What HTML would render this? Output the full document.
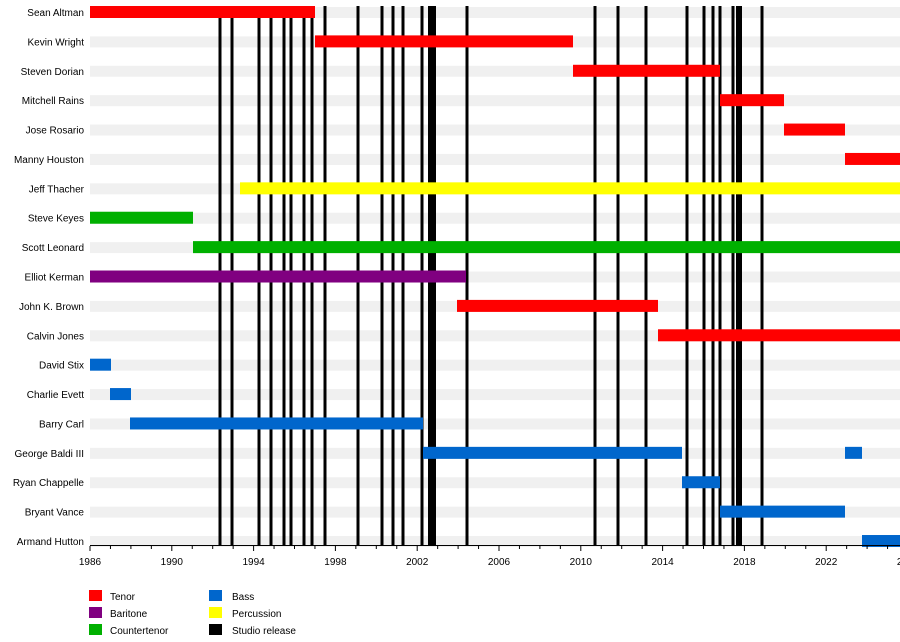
<!DOCTYPE html><html><head><style>body{margin:0;background:#fff}svg{display:block}text{font-family:"Liberation Sans",sans-serif;font-size:10px;fill:#000}</style></head><body>
<svg width="900" height="642" xmlns="http://www.w3.org/2000/svg">
<g id="bands" fill="#f0f0f0"></g>
<g id="vl" fill="#000"></g>
<g id="bars"></g>
<g id="ax"></g>
<g id="lab"></g>
<g>
<rect x="89" y="590" width="13" height="11" fill="#f00"/><text x="110" y="600">Tenor</text>
<rect x="89" y="607" width="13" height="11" fill="#800080"/><text x="110" y="617">Baritone</text>
<rect x="89" y="624" width="13" height="11" fill="#00b000"/><text x="110" y="634">Countertenor</text>
<rect x="209" y="590" width="13" height="11" fill="#0066cc"/><text x="232" y="600">Bass</text>
<rect x="209" y="607" width="13" height="11" fill="#ffff00"/><text x="232" y="617">Percussion</text>
<rect x="209" y="624" width="13" height="11" fill="#000"/><text x="232" y="634">Studio release</text>
</g>
<script>
const ns="http://www.w3.org/2000/svg";
function el(p,t,a,txt){const e=document.createElementNS(ns,t);for(const k in a)e.setAttribute(k,a[k]);if(txt)e.textContent=txt;document.getElementById(p).appendChild(e);}
const names=["Sean Altman","Kevin Wright","Steven Dorian","Mitchell Rains","Jose Rosario","Manny Houston","Jeff Thacher","Steve Keyes","Scott Leonard","Elliot Kerman","John K. Brown","Calvin Jones","David Stix","Charlie Evett","Barry Carl","George Baldi III","Ryan Chappelle","Bryant Vance","Armand Hutton"];
const R="#f00",Y="#ffff00",G="#00b000",P="#800080",B="#0066cc";
const bars=[[0,90,315,R],[1,315,573,R],[2,573,720,R],[3,720,784,R],[4,784,845,R],[5,845,900,R],[6,240,900,Y],[7,90,193,G],[8,193,900,G],[9,90,466,P],[10,457,658,R],[11,658,900,R],[12,90,111,B],[13,110,131,B],[14,130,423,B],[15,423,682,B],[15,845,862,B],[16,682,720,B],[17,720,845,B],[18,862,900,B]];
const yc=i=>12+i*29.39;
names.forEach((n,i)=>{el("bands","rect",{x:90,y:yc(i)-5,width:810,height:11});el("lab","text",{x:84,y:yc(i)+4,"text-anchor":"end"},n);});
bars.forEach(b=>el("bars","rect",{x:b[1],y:yc(b[0])-6,width:b[2]-b[1],height:12,fill:b[3]}));
[220,232,259,271,284,291,304,312,325,358,382,393,403,422,467,595,618,646,687,704,713,720,762].forEach(x=>el("vl","rect",{x:x-1.5,y:6,width:3,height:540}));
el("vl","rect",{x:428,y:6,width:8,height:540});el("vl","rect",{x:736,y:6,width:6,height:540});el("vl","rect",{x:731.5,y:6,width:3,height:540});
el("ax","rect",{x:90,y:545,width:810,height:1,fill:"#000"});
for(let y=1986;y<=2026;y++){const x=90+(y-1986)*20.45;const maj=(y-1986)%4==0;el("ax","rect",{x:x-0.5,y:546,width:1,height:maj?5:3,fill:"#000"});if(maj)el("ax","text",{x:x,y:565,"text-anchor":"middle"},String(y));}
</script>
</svg></body></html>
